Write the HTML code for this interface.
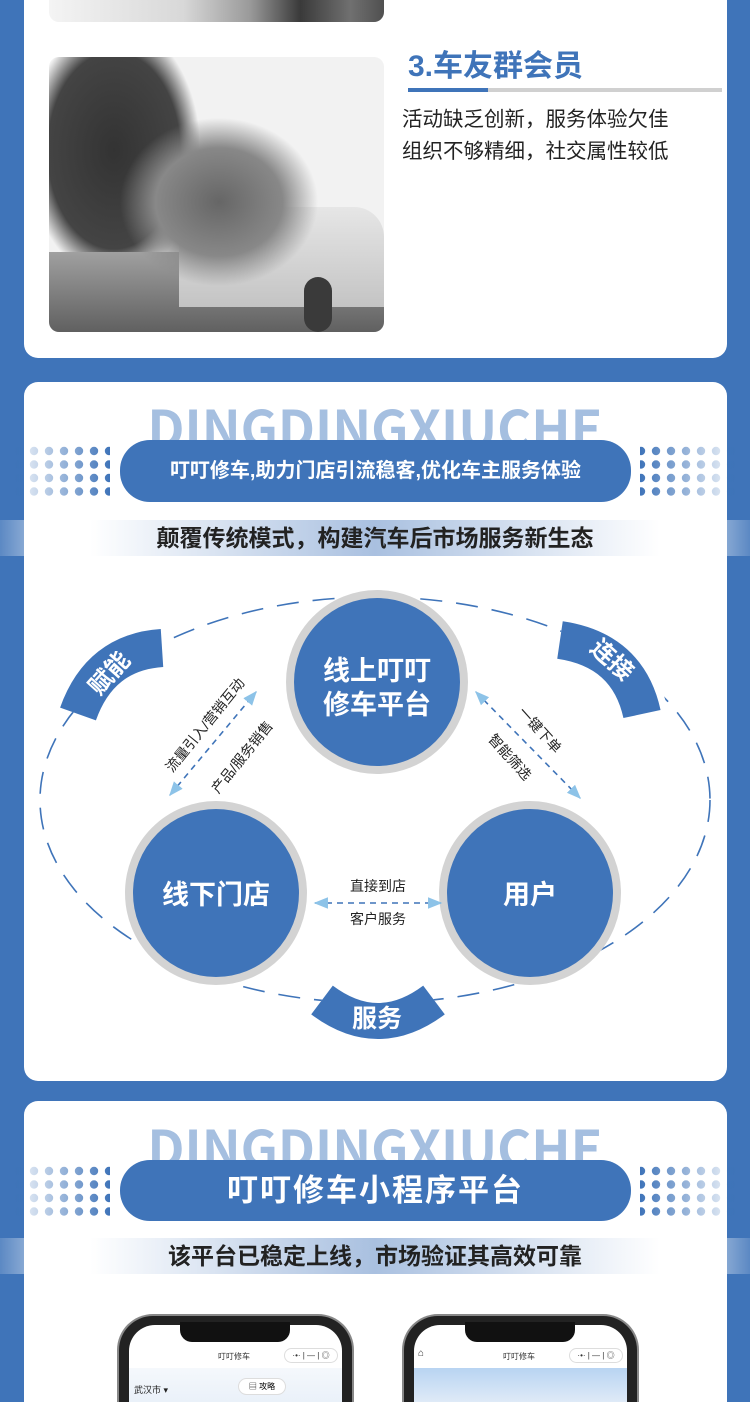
<!DOCTYPE html>
<html><head><meta charset="utf-8"><style>
*{margin:0;padding:0;box-sizing:border-box}
html,body{width:750px;height:1402px;overflow:hidden}
body{background:#3f74b9;font-family:"Liberation Sans","Noto Sans CJK SC",sans-serif;position:relative}
.abs{position:absolute}
.card{position:absolute;background:#fff;border-radius:14px;left:24px;width:703px}
.wm{position:absolute;left:0;width:750px;text-align:center;font-weight:bold;font-size:52px;color:#a5bfe0;line-height:52px;font-family:"Noto Sans CJK SC","Liberation Sans",sans-serif}
.pill{position:absolute;left:120px;width:511px;background:#3f74b9;border-radius:30px;color:#fff;font-weight:bold;text-align:center}
.band{position:absolute;left:0;width:750px;height:36px;background:linear-gradient(90deg,rgba(255,255,255,0.15),#fff 12%,#a9c0e0 50%,#fff 88%,rgba(255,255,255,0.15));text-align:center;font-weight:bold;font-size:23px;color:#222;line-height:36px}
.dots{position:absolute;width:96px;height:52px}
</style></head><body>
<!-- card 1 -->
<div class="card" style="top:-20px;height:378px"></div>
<div class="abs" style="left:49px;top:0;width:335px;height:22px;border-radius:0 0 10px 10px;background:linear-gradient(90deg,#f4f4f4,#d8d8d8 40%,#9a9a9a 60%,#3a3a3a 75%,#707070 90%,#505050)"></div>
<div class="abs" style="left:49px;top:57px;width:335px;height:275px;border-radius:10px;overflow:hidden;background:#f2f2f2;">
 <div class="abs" style="left:-20px;top:-10px;width:170px;height:230px;background:radial-gradient(ellipse at 50% 45%,#333 0,#444 55%,rgba(240,240,240,0) 72%)"></div>
 <div class="abs" style="left:0;top:195px;width:335px;height:80px;background:linear-gradient(180deg,#a0a0a0,#606060)"></div>
 <div class="abs" style="left:130px;top:150px;width:205px;height:100px;background:linear-gradient(180deg,#e6e6e6,#c4c4c4);border-radius:20px 30px 0 0"></div>
 <div class="abs" style="left:70px;top:60px;width:200px;height:170px;background:radial-gradient(ellipse,#666 0,#888 45%,rgba(240,240,240,0) 70%)"></div>
 <div class="abs" style="left:255px;top:220px;width:28px;height:55px;border-radius:14px;background:#3a3a3a"></div>
</div>
<div class="abs" style="left:408px;top:49px;font-size:30px;font-weight:bold;color:#3f74b9;line-height:36px">3.车友群会员</div>
<div class="abs" style="left:408px;top:88px;width:314px;height:4px;background:#d0d0d0"></div>
<div class="abs" style="left:408px;top:88px;width:80px;height:4px;background:#3f74b9"></div>
<div class="abs" style="left:402px;top:104px;font-size:20.5px;color:#222;line-height:32px">活动缺乏创新，服务体验欠佳<br>组织不够精细，社交属性较低</div>

<!-- card 2 -->
<div class="card" style="top:382px;height:699px"></div>
<div class="wm" style="top:400px">DINGDINGXIUCHE</div>
<svg class="dots" style="left:14px;top:446px" viewBox="0 0 96 52">
<defs><linearGradient id="gl" x1="0" x2="1"><stop offset="0" stop-color="#3f74b9" stop-opacity="0.05"/><stop offset="1" stop-color="#3f74b9"/></linearGradient>
<pattern id="pd" width="15" height="13.5" patternUnits="userSpaceOnUse"><circle cx="5" cy="5" r="4.2" fill="#fff"/></pattern>
<mask id="mk"><rect width="96" height="52" fill="url(#pd)"/></mask></defs>
<rect width="96" height="52" fill="url(#gl)" mask="url(#mk)"/></svg>
<svg class="dots" style="left:640px;top:446px;transform:scaleX(-1)" viewBox="0 0 96 52"><rect width="96" height="52" fill="url(#gl)" mask="url(#mk)"/></svg>
<div class="pill" style="top:440px;height:62px;font-size:20px;line-height:62px">叮叮修车,助力门店引流稳客,优化车主服务体验</div>
<div class="band" style="top:520px">颠覆传统模式，构建汽车后市场服务新生态</div>

<svg class="abs" style="left:0;top:580px" width="750" height="470" viewBox="0 580 750 470">
<defs>
<marker id="ar" viewBox="0 0 10 10" refX="9" refY="5" markerWidth="9" markerHeight="9" orient="auto-start-reverse"><path d="M0 1 L10 5 L0 9z" fill="#8dc3e8"/></marker>
</defs>
<ellipse cx="375" cy="800" rx="335" ry="203" fill="none" stroke="#3f74b9" stroke-width="1.6" stroke-dasharray="22 14"/>
<path d="M78 714 Q100 652 162 648" fill="none" stroke="#fff" stroke-width="52"/>
<path d="M78 714 Q100 652 162 648" fill="none" stroke="#3f74b9" stroke-width="38"/>
<path d="M560 640 Q628 650 642 714" fill="none" stroke="#fff" stroke-width="52"/>
<path d="M560 640 Q628 650 642 714" fill="none" stroke="#3f74b9" stroke-width="38"/>
<path d="M322 1000 Q378 1042 434 1000" fill="none" stroke="#fff" stroke-width="52"/>
<path d="M322 1000 Q378 1042 434 1000" fill="none" stroke="#3f74b9" stroke-width="36"/>
<text x="108" y="682" transform="rotate(-48 108 672)" font-size="24" font-weight="bold" fill="#fff" text-anchor="middle" font-family="Liberation Sans,Noto Sans CJK SC,sans-serif">赋能</text>
<text x="612" y="668" transform="rotate(42 612 660)" font-size="24" font-weight="bold" fill="#fff" text-anchor="middle" font-family="Liberation Sans,Noto Sans CJK SC,sans-serif">连接</text>
<text x="377" y="1027" font-size="25" font-weight="bold" fill="#fff" text-anchor="middle" font-family="Liberation Sans,Noto Sans CJK SC,sans-serif">服务</text>
<g fill="#3f74b9" stroke="#d3d3d3" stroke-width="8">
<ellipse cx="377" cy="682" rx="87" ry="88"/>
<ellipse cx="216" cy="893" rx="87" ry="88"/>
<ellipse cx="530" cy="893" rx="87" ry="88"/>
</g>
<g font-family="Liberation Sans,Noto Sans CJK SC,sans-serif" font-weight="bold" fill="#fff" font-size="27" text-anchor="middle">
<text x="377" y="680">线上叮叮</text><text x="377" y="714">修车平台</text>
<text x="216" y="904">线下门店</text>
<text x="530" y="904">用户</text>
</g>
<g stroke="#3f74b9" stroke-width="1.6" stroke-dasharray="6 5" fill="none" marker-start="url(#ar)" marker-end="url(#ar)">
<line x1="170" y1="795" x2="256" y2="692"/>
<line x1="476" y1="692" x2="580" y2="798"/>
<line x1="315" y1="903" x2="441" y2="903"/>
</g>
<g font-family="Liberation Sans,Noto Sans CJK SC,sans-serif" font-size="14" fill="#222" text-anchor="middle">
<text x="205" y="730" transform="rotate(-51 205 725)">流量引入/营销互动</text>
<text x="242" y="762" transform="rotate(-51 242 757)">产品/服务销售</text>
<text x="540" y="735" transform="rotate(48 540 730)">一键下单</text>
<text x="510" y="762" transform="rotate(48 510 757)">智能筛选</text>
<text x="378" y="891">直接到店</text>
<text x="378" y="924">客户服务</text>
</g>
</svg>

<!-- card 3 -->
<div class="card" style="top:1101px;height:301px;border-radius:14px 14px 0 0"></div>
<div class="wm" style="top:1120px">DINGDINGXIUCHE</div>
<svg class="dots" style="left:14px;top:1166px" viewBox="0 0 96 52"><rect width="96" height="52" fill="url(#gl)" mask="url(#mk)"/></svg>
<svg class="dots" style="left:640px;top:1166px;transform:scaleX(-1)" viewBox="0 0 96 52"><rect width="96" height="52" fill="url(#gl)" mask="url(#mk)"/></svg>
<div class="pill" style="top:1160px;height:61px;font-size:31px;line-height:61px;letter-spacing:2px">叮叮修车小程序平台</div>
<div class="band" style="top:1238px">该平台已稳定上线，市场验证其高效可靠</div>

<!-- phones -->
<div class="abs" style="left:117px;top:1314px;width:237px;height:88px;border-radius:36px 36px 0 0;background:#222;border:2px solid #888;border-bottom:none"></div>
<div class="abs" style="left:129px;top:1325px;width:213px;height:77px;border-radius:26px 26px 0 0;background:#fff"></div>
<div class="abs" style="left:180px;top:1322px;width:110px;height:20px;border-radius:0 0 12px 12px;background:#111"></div>
<div class="abs" style="left:129px;top:1368px;width:213px;height:34px;background:linear-gradient(180deg,#f5f8fc,#eaf1f9)"></div>
<div class="abs" style="left:218px;top:1351px;font-size:8px;color:#333">叮叮修车</div>
<div class="abs" style="left:284px;top:1348px;width:54px;height:15px;border-radius:8px;border:1px solid #ddd;font-size:8px;color:#333;line-height:13px;text-align:center">·•· | — | ◎</div>
<div class="abs" style="left:134px;top:1383px;font-size:9px;color:#222">武汉市 ▾</div>
<div class="abs" style="left:238px;top:1378px;width:48px;height:17px;border-radius:9px;border:1px solid #ddd;font-size:8px;line-height:15px;text-align:center;background:#fff">▤ 攻略</div>

<div class="abs" style="left:402px;top:1314px;width:237px;height:88px;border-radius:36px 36px 0 0;background:#222;border:2px solid #888;border-bottom:none"></div>
<div class="abs" style="left:414px;top:1325px;width:213px;height:77px;border-radius:26px 26px 0 0;background:#fff"></div>
<div class="abs" style="left:465px;top:1322px;width:110px;height:20px;border-radius:0 0 12px 12px;background:#111"></div>
<div class="abs" style="left:414px;top:1368px;width:213px;height:34px;background:linear-gradient(180deg,#b8d4f2,#dfeaf7)"></div>
<div class="abs" style="left:418px;top:1348px;font-size:10px;color:#333">⌂</div>
<div class="abs" style="left:503px;top:1351px;font-size:8px;color:#333">叮叮修车</div>
<div class="abs" style="left:569px;top:1348px;width:54px;height:15px;border-radius:8px;border:1px solid #ddd;font-size:8px;color:#333;line-height:13px;text-align:center">·•· | — | ◎</div>
</body></html>
